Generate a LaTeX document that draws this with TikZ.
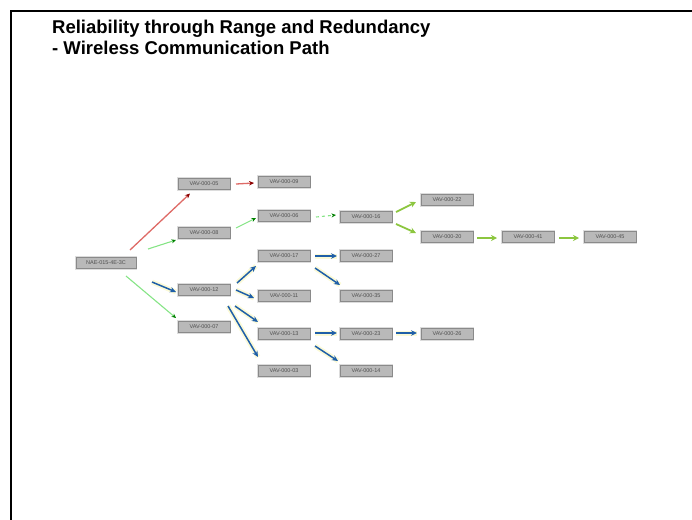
\documentclass[tikz,border=0pt]{standalone}
\usepackage{fontspec}
\setmainfont{Liberation Sans}
\usetikzlibrary{arrows.meta,calc}
\definecolor{boxfill}{HTML}{B9B9B9}
\definecolor{boxline}{HTML}{8A8A8A}
\definecolor{boxhalo}{HTML}{DCDCDC}
\definecolor{boxtext}{HTML}{505050}
\definecolor{linkred}{HTML}{DE6A66}
\definecolor{linkpale}{HTML}{86E486}
\definecolor{linkgreen}{HTML}{8CC63F}
\definecolor{linkblue}{HTML}{1F5FA8}
\definecolor{glow}{HTML}{F4F08A}
\tikzset{
  device/.style={draw=boxline, fill=boxfill, line width=0.6pt, minimum width=52pt,
    minimum height=11.5pt, inner sep=0pt, text=boxtext, font=\fontsize{5.5}{5.5}\selectfont,
    preaction={draw=boxhalo, line width=2.6pt}},
  redlink/.style={draw=linkred, line width=1.3pt, -{Stealth[length=5pt,width=4.5pt,color=red!55!black]}},
  palelink/.style={draw=linkpale, line width=1.1pt, -{Stealth[length=4.5pt,width=4pt,color=green!50!black]}},
  greenlink/.style={draw=linkgreen, line width=1.8pt, -{Stealth[length=6pt,width=6pt]}},
  bluelink/.style={draw=linkblue, line width=1.5pt, -{Stealth[length=6pt,width=5.5pt]},
    preaction={draw=glow, line width=5pt, opacity=0.35, -}},
}
\begin{document}
\begin{tikzpicture}[x=1pt,y=-1pt]
\useasboundingbox (0,0) rectangle (692,519);
% slide frame
\draw[line width=2.2pt] (11,530) -- (11,11) -- (700,11);
% heading
\node[anchor=base west, align=left, inner sep=0pt, font=\bfseries\fontsize{18.5}{21}\selectfont] (title) at (52,55)
  {Reliability through Range and Redundancy\\- Wireless Communication Path};

% devices
\node[device, minimum width=60pt] (S) at (106,263) {NAE-015-4E-3C};
\node[device] (A1) at (204,184) {VAV-000-05};
\node[device] (A2) at (284,182) {VAV-000-09};
\node[device] (B1) at (204,233) {VAV-000-08};
\node[device] (B2) at (284,216) {VAV-000-06};
\node[device] (B3) at (366,217) {VAV-000-16};
\node[device] (B4) at (447,200) {VAV-000-22};
\node[device] (B5) at (447,237) {VAV-000-20};
\node[device] (B6) at (528,237) {VAV-000-41};
\node[device] (B7) at (610,237) {VAV-000-45};
\node[device] (C1) at (204,290) {VAV-000-12};
\node[device] (D)  at (204,327) {VAV-000-07};
\node[device] (C2) at (284,256) {VAV-000-17};
\node[device] (C3) at (366,256) {VAV-000-27};
\node[device] (C4) at (284,296) {VAV-000-11};
\node[device] (C5) at (366,296) {VAV-000-35};
\node[device] (C6) at (284,334) {VAV-000-13};
\node[device] (C7) at (366,334) {VAV-000-23};
\node[device] (C10) at (447,334) {VAV-000-26};
\node[device] (C8) at (284,371) {VAV-000-03};
\node[device] (C9) at (366,371) {VAV-000-14};

% red path
\draw[redlink] ($(S)+(24,-13)$) -- ($(A1)+(-14,9.5)$);
\draw[redlink] ($(A1)+(32,0)$) -- ($(A2)+(-30,1)$);
% pale green paths
\draw[palelink] ($(S)+(42,-14)$) -- ($(B1)+(-28,7)$);
\draw[palelink] ($(B1)+(32,-5)$) -- ($(B2)+(-28,2)$);
\draw[palelink, dashed] ($(B2)+(32,1)$) -- ($(B3)+(-30,-2)$);
\draw[palelink] ($(S)+(20,13)$) -- ($(D)+(-28,-9)$);
% green paths
\draw[greenlink] ($(B3)+(30,-5)$) -- ($(B4)+(-31,2)$);
\draw[greenlink] ($(B3)+(30,7)$) -- ($(B5)+(-31,-4)$);
\draw[greenlink] ($(B5)+(30,1)$) -- ($(B6)+(-31,1)$);
\draw[greenlink] ($(B6)+(31,1)$) -- ($(B7)+(-31,1)$);
% blue paths
\draw[bluelink] ($(S)+(46,19)$) -- ($(C1)+(-28,2)$);
\draw[bluelink] ($(C1)+(33,-7)$) -- ($(C2)+(-28,10)$);
\draw[bluelink] ($(C1)+(32,0)$) -- ($(C4)+(-30,2)$);
\draw[bluelink] ($(C1)+(31,16)$) -- ($(C6)+(-26,-12)$);
\draw[bluelink] ($(C1)+(24,16)$) -- ($(C8)+(-26,-14)$);
\draw[bluelink] ($(C2)+(31,0)$) -- ($(C3)+(-29,0)$);
\draw[bluelink] ($(C2)+(31,12)$) -- ($(C5)+(-26,-11)$);
\draw[bluelink] ($(C6)+(31,-1)$) -- ($(C7)+(-29,-1)$);
\draw[bluelink] ($(C6)+(31,12)$) -- ($(C9)+(-28,-10)$);
\draw[bluelink] ($(C7)+(30,-1)$) -- ($(C10)+(-30,-1)$);
\end{tikzpicture}
\end{document}
